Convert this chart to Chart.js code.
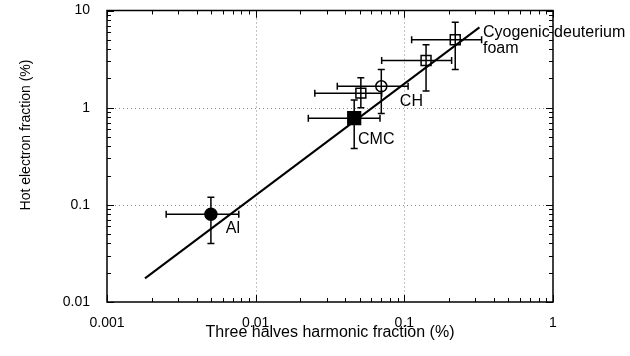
<!DOCTYPE html>
<html>
<head>
<meta charset="utf-8">
<script src="https://cdn.jsdelivr.net/npm/chart.js@4.4.1/dist/chart.umd.min.js"></script>
<style>
html, body { margin: 0; padding: 0; background: #fff; }
</style>
</head>
<body>
<canvas id="hotChart" width="630" height="356"></canvas>
<script>
// values (both axes in %)
const xTickValues = [0.001, 0.01, 0.1, 1];
const yTickValues = [0.01, 0.1, 1, 10];

// Al, CMC, foam, CH, foam, foam
const pointX = [0.005, 0.046, 0.051, 0.07, 0.14, 0.22];
const pointY = [0.08, 0.78, 1.41, 1.66, 3.06, 5.0];
const xErrLow = [0.0025, 0.0226, 0.025, 0.0354, 0.0704, 0.112];
const xErrHigh = [0.0077, 0.0686, 0.0704, 0.106, 0.208, 0.331];
const yErrLow = [0.04, 0.38, 1.0, 0.87, 1.48, 2.47];
const yErrHigh = [0.12, 1.2, 2.03, 2.47, 4.44, 7.58];
const markerKind = ['dot', 'block', 'box', 'ring', 'box', 'box'];

// fitted line
const fitX = [0.0018, 0.32];
const fitY = [0.0175, 6.7];

// sample labels
const noteText = ['Al', 'CMC', 'CH', 'Cyogenic deuterium', 'foam'];
const noteX = [0.0063, 0.0488, 0.0933, 0.338, 0.338];
const noteY = [0.0575, 0.472, 1.16, 5.94, 4.06];

const FONT = '"Liberation Sans", Arial, Helvetica, sans-serif';
Chart.defaults.font.family = FONT;
Chart.defaults.color = '#000';

function minorValues(min, max) {
    const out = [];
    for (let d = min; d < max; d *= 10) {
        for (let k = 1; k <= 10; k++) {
            const v = +(k * d).toPrecision(3);
            if (v >= min && v <= max) out.push({v: v, major: k === 1 || k === 10});
        }
    }
    return out;
}

const decor = {
    id: 'decor',
    beforeDatasetsDraw(chart) {
        const {ctx, chartArea: a, scales: {x, y}} = chart;
        ctx.save();
        // dotted grid at inner decades
        ctx.strokeStyle = '#888';
        ctx.lineWidth = 1;
        ctx.setLineDash([1, 3]);
        xTickValues.forEach(v => {
            const px = Math.round(x.getPixelForValue(v)) + 0.5;
            if (px > a.left + 3 && px < a.right - 3) {
                ctx.beginPath(); ctx.moveTo(px, a.top); ctx.lineTo(px, a.bottom); ctx.stroke();
            }
        });
        yTickValues.forEach(v => {
            const py = Math.round(y.getPixelForValue(v)) + 0.5;
            if (py > a.top + 3 && py < a.bottom - 3) {
                ctx.beginPath(); ctx.moveTo(a.left, py); ctx.lineTo(a.right, py); ctx.stroke();
            }
        });
        ctx.setLineDash([]);

        // error bars
        ctx.strokeStyle = '#000';
        ctx.lineWidth = 1.5;
        const cap = 3.5;
        pointX.forEach((v, i) => {
            const cx = x.getPixelForValue(v);
            const cy = y.getPixelForValue(pointY[i]);
            const l = x.getPixelForValue(xErrLow[i]);
            const r = x.getPixelForValue(xErrHigh[i]);
            const t = y.getPixelForValue(yErrHigh[i]);
            const b = y.getPixelForValue(yErrLow[i]);
            ctx.beginPath();
            ctx.moveTo(l, cy); ctx.lineTo(r, cy);
            ctx.moveTo(l, cy - cap); ctx.lineTo(l, cy + cap);
            ctx.moveTo(r, cy - cap); ctx.lineTo(r, cy + cap);
            ctx.moveTo(cx, t); ctx.lineTo(cx, b);
            ctx.moveTo(cx - cap, t); ctx.lineTo(cx + cap, t);
            ctx.moveTo(cx - cap, b); ctx.lineTo(cx + cap, b);
            ctx.stroke();
        });
        ctx.restore();
    },
    afterDraw(chart) {
        const {ctx, chartArea: a, scales: {x, y}} = chart;
        ctx.save();
        ctx.strokeStyle = '#000';
        ctx.lineWidth = 1.5;
        ctx.strokeRect(a.left, a.top, a.right - a.left, a.bottom - a.top);

        // inward ticks on all four sides
        ctx.lineWidth = 1;
        ctx.beginPath();
        minorValues(0.001, 1).forEach(t => {
            const px = Math.round(x.getPixelForValue(t.v)) + 0.5;
            const len = t.major ? 7 : 4;
            ctx.moveTo(px, a.bottom); ctx.lineTo(px, a.bottom - len);
            ctx.moveTo(px, a.top); ctx.lineTo(px, a.top + len);
        });
        minorValues(0.01, 10).forEach(t => {
            const py = Math.round(y.getPixelForValue(t.v)) + 0.5;
            const len = t.major ? 7 : 4;
            ctx.moveTo(a.left, py); ctx.lineTo(a.left + len, py);
            ctx.moveTo(a.right, py); ctx.lineTo(a.right - len, py);
        });
        ctx.stroke();

        // sample labels
        ctx.fillStyle = '#000';
        ctx.font = '16px ' + FONT;
        ctx.textAlign = 'left';
        ctx.textBaseline = 'middle';
        noteText.forEach((s, i) => {
            ctx.fillText(s, x.getPixelForValue(noteX[i]), y.getPixelForValue(noteY[i]));
        });

        // y axis title
        ctx.font = '14px ' + FONT;
        ctx.textAlign = 'center';
        ctx.translate(26, 135);
        ctx.rotate(-Math.PI / 2);
        ctx.fillText('Hot electron fraction (%)', 0, 0);
        ctx.restore();
    }
};

const ctx = document.getElementById('hotChart').getContext('2d');

new Chart(ctx, {
    type: 'scatter',
    data: {
        datasets: [{
            data: pointX.map((v, i) => ({x: v, y: pointY[i]})),
            pointStyle: c => (markerKind[c.dataIndex] === 'dot' || markerKind[c.dataIndex] === 'ring') ? 'circle' : 'rect',
            pointRadius: c => ({dot: 6, block: 9, box: 7, ring: 5.5})[markerKind[c.dataIndex]],
            pointBackgroundColor: c => (markerKind[c.dataIndex] === 'dot' || markerKind[c.dataIndex] === 'block') ? '#000' : 'rgba(0,0,0,0)',
            pointBorderColor: '#000',
            pointBorderWidth: 1.5
        }, {
            data: fitX.map((v, i) => ({x: v, y: fitY[i]})),
            showLine: true,
            borderColor: '#000',
            borderWidth: 2,
            pointRadius: 0
        }]
    },
    options: {
        responsive: false,
        animation: false,
        devicePixelRatio: 1,
        layout: {padding: {top: 10, right: 77, bottom: 0, left: 0}},
        plugins: {legend: {display: false}, tooltip: {enabled: false}},
        scales: {
            x: {
                type: 'logarithmic',
                min: 0.001,
                max: 1,
                afterBuildTicks: s => { s.ticks = xTickValues.map(v => ({value: v})); },
                afterFit: s => { s.height = 54; s.paddingLeft = 0; s.paddingRight = 0; },
                grid: {display: false, drawTicks: false},
                border: {display: false},
                ticks: {
                    callback: v => String(v),
                    font: {size: 14},
                    color: '#000',
                    padding: 13,
                    maxRotation: 0,
                    autoSkip: false
                },
                title: {
                    display: true,
                    text: 'Three halves harmonic fraction (%)',
                    font: {size: 16},
                    color: '#000',
                    padding: {top: 0, bottom: 14}
                }
            },
            y: {
                type: 'logarithmic',
                min: 0.01,
                max: 10,
                afterBuildTicks: s => { s.ticks = yTickValues.map(v => ({value: v})); },
                afterFit: s => { s.width = 107; s.paddingTop = 0; s.paddingBottom = 0; },
                grid: {display: false, drawTicks: false},
                border: {display: false},
                ticks: {
                    callback: v => String(v),
                    font: {size: 14},
                    color: '#000',
                    padding: 17,
                    autoSkip: false
                }
            }
        }
    },
    plugins: [decor]
});
</script>
</body>
</html>
